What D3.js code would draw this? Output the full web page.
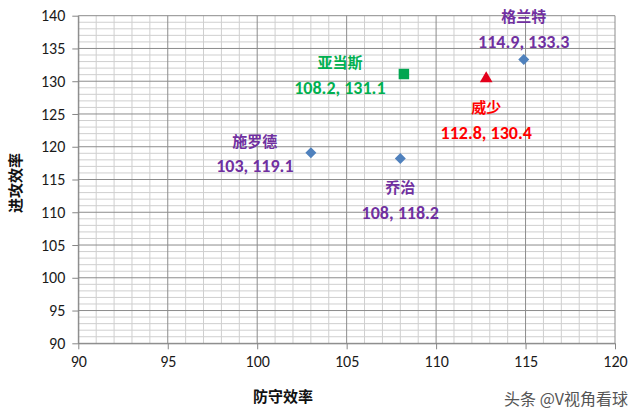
<!DOCTYPE html>
<html><head><meta charset="utf-8">
<script src="https://cdn.jsdelivr.net/npm/d3@7"></script>
<style>body{margin:0;background:#fff}svg{display:block}</style>
</head><body><svg id="c" width="640" height="419"></svg>
<script>
const names = ["施罗德", "乔治", "格兰特", "亚当斯", "威少"];
const defense = [103, 108, 114.9, 108.2, 112.8];
const offense = [119.1, 118.2, 133.3, 131.1, 130.4];
const shapes = ["diamond", "diamond", "diamond", "square", "triangle"];
const markerColors = ["#4F81BD", "#4F81BD", "#4F81BD", "#00A650", "#E3001B"];
const labelColors = ["#7030A0", "#7030A0", "#7030A0", "#00B050", "#FF0000"];
const labelPos = ["aboveLeft", "below", "above", "left", "below"];
const xTicks = [90, 95, 100, 105, 110, 115, 120];
const yTicks = [90, 95, 100, 105, 110, 115, 120, 125, 130, 135, 140];

const svg = d3.select("#c");
const L = 78.3, R = 615, T = 15.7, B = 343.3;
const x = d3.scaleLinear().domain([90, 120]).range([L, R]);
const y = d3.scaleLinear().domain([90, 140]).range([B, T]);

const g = svg.append("g");
d3.range(90, 121, 1).forEach(v => {
  if (v % 5) g.append("line").attr("x1", x(v)).attr("x2", x(v)).attr("y1", T).attr("y2", B).attr("stroke", "#cfcfcf").attr("stroke-width", 1);
});
d3.range(90, 141, 1).forEach(v => {
  if (v % 5) g.append("line").attr("x1", L).attr("x2", R).attr("y1", y(v)).attr("y2", y(v)).attr("stroke", "#cfcfcf").attr("stroke-width", 1);
});
xTicks.forEach(v => g.append("line").attr("x1", x(v)).attr("x2", x(v)).attr("y1", T).attr("y2", B).attr("stroke", "#8c8c8c").attr("stroke-width", 1));
yTicks.forEach(v => g.append("line").attr("x1", L).attr("x2", R).attr("y1", y(v)).attr("y2", y(v)).attr("stroke", "#8c8c8c").attr("stroke-width", 1));

const xa = svg.append("g").attr("transform", `translate(0,${B})`)
  .call(d3.axisBottom(x).tickValues(xTicks).tickSize(6).tickPadding(6).tickSizeOuter(0));
const ya = svg.append("g").attr("transform", `translate(${L},0)`)
  .call(d3.axisLeft(y).tickValues(yTicks).tickSize(6).tickPadding(7).tickSizeOuter(0));
[xa, ya].forEach(a => {
  a.select(".domain").attr("stroke", "#868686");
  a.selectAll(".tick line").attr("stroke", "#868686");
  a.selectAll("text").attr("fill", "#1a1a1a").style("font-family", "Carlito, 'Liberation Sans', sans-serif").style("font-size", "16px");
});

svg.append("text").attr("x", 283).attr("y", 402).attr("text-anchor", "middle")
  .style("font-family", "'Noto Sans CJK SC'").style("font-weight", "bold").style("font-size", "15px").attr("fill", "#111").text("防守效率");
svg.append("text").attr("transform", "translate(21,183) rotate(-90)").attr("text-anchor", "middle")
  .style("font-family", "'Noto Sans CJK SC'").style("font-weight", "bold").style("font-size", "15px").attr("fill", "#111").text("进攻效率");

const diamond = {draw(ctx, s) { const r = 5.5; ctx.moveTo(0, -r); ctx.lineTo(r, 0); ctx.lineTo(0, r); ctx.lineTo(-r, 0); ctx.closePath(); }};
const sym = {diamond: diamond, square: d3.symbolSquare, triangle: d3.symbolTriangle};
const sizes = {diamond: 60, square: 110, triangle: 70};
names.forEach((n, i) => {
  svg.append("path").attr("d", d3.symbol().type(sym[shapes[i]]).size(sizes[shapes[i]])())
    .attr("transform", `translate(${x(defense[i])},${y(offense[i])})`)
    .attr("fill", markerColors[i]);
});

const offs = {
  aboveLeft: [-56, -6, 19],
  below: [0, 34, 60],
  above: [0, -38, -12],
  left: [-64, -6, 20],
  belowR: [0, 34, 59]
};
names.forEach((n, i) => {
  const px = x(defense[i]), py = y(offense[i]);
  const o = offs[labelPos[i]];
  const t = svg.append("g").attr("fill", labelColors[i]).style("font-weight", "bold").style("font-size", "15px")
    .attr("text-anchor", "middle");
  t.append("text").attr("x", px + o[0]).attr("y", py + o[1]).style("font-family", "'Noto Sans CJK SC'").text(n);
  t.append("text").attr("x", px + o[0]).attr("y", py + o[2]).style("font-family", "Carlito, 'Liberation Sans', sans-serif").style("font-size", "18px")
    .text(defense[i] + ",  " + offense[i]);
});

svg.append("text").attr("x", 628).attr("y", 405).attr("text-anchor", "end")
  .style("font-family", "'Noto Sans CJK SC'").style("font-size", "16px").attr("fill", "#555").text("头条 @V视角看球");
</script></body></html>
